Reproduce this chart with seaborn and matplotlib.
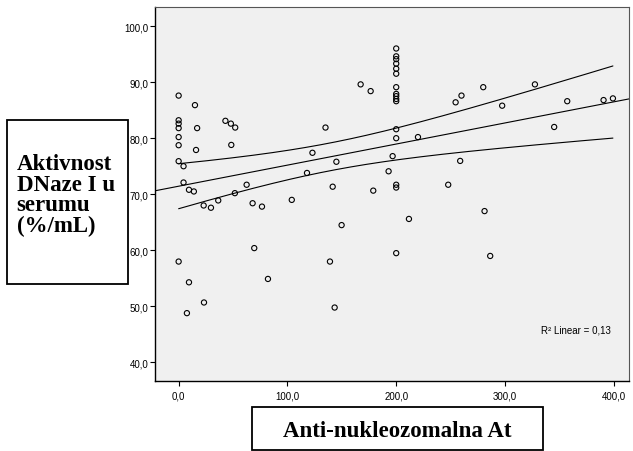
import numpy as np
import pandas as pd
import matplotlib
matplotlib.use("Agg")
import matplotlib.pyplot as plt
import seaborn as sns
from matplotlib.patches import Rectangle

# ---- data ----
x_vals = [0, 0, 0, 0, 0, 0, 0, 0,
          4.5, 4.5, 9.5, 14, 15, 17, 16, 23, 29.7, 36.4,
          43, 48, 52, 48.4, 51.7, 62.5, 68, 76.6, 104, 118,
          123, 9.5, 23.3, 7.6, 69.5, 82.1,
          135, 145, 141.6, 149.8, 139.1, 143.4, 167.3, 176.5, 178.9, 193, 196.7,
          200, 200, 200, 200, 200, 200, 200, 200, 200, 200, 200,
          200, 200, 200, 200, 200,
          211.7, 220, 247.8, 254.6, 260, 258.8, 280, 281.2, 286.4, 297.4,
          327.5, 345.2, 357.2, 390.6, 399.2]
y_vals = [87.6, 83.2, 82.6, 81.8, 80.2, 78.75, 75.9, 58.0,
          75.0, 72.1, 70.8, 70.5, 85.9, 81.8, 77.9, 68.0, 67.6, 68.9,
          83.1, 82.6, 81.9, 78.8, 70.2, 71.7, 68.4, 67.8, 69.0, 73.8,
          77.4, 54.3, 50.7, 48.8, 60.4, 54.9,
          81.9, 75.8, 71.35, 64.5, 58.0, 49.8, 89.6, 88.4, 70.65, 74.1, 76.8,
          96.0, 94.6, 94.1, 93.3, 92.4, 91.5, 89.1, 87.9, 87.5, 87.0, 86.6,
          81.6, 80.0, 71.7, 71.2, 59.5,
          65.6, 80.2, 71.7, 86.4, 87.6, 75.95, 89.1, 67.0, 59.0, 85.8,
          89.6, 82.0, 86.6, 86.8, 87.1]
x_ticks = [0, 100, 200, 300, 400]
x_tick_labels = ["0,0", "100,0", "200,0", "300,0", "400,0"]
y_ticks = [40, 50, 60, 70, 80, 90, 100]
y_tick_labels = ["40,0", "50,0", "60,0", "70,0", "80,0", "90,0", "100,0"]
x_title = "Anti-nukleozomalna At"
y_title = "Aktivnost\nDNaze I u\nserumu\n(%/mL)"
r2_text = "R\u00b2 Linear = 0,13"

df = pd.DataFrame({"x": x_vals, "y": y_vals})

sns.set_style("ticks")
plt.rcParams["font.family"] = ["Liberation Sans", "DejaVu Sans"]

fig = plt.figure(figsize=(6.33, 4.52), dpi=100)
ax = fig.add_axes([0.2444, 0.1549, 0.9937 - 0.2444, 0.9823 - 0.1549])
ax.set_facecolor("#F0F0F0")
ax.set_xlim(-22, 414)
ax.set_ylim(36.7, 103.4)

# fit line across the whole axis
sns.regplot(data=df, x="x", y="y", ax=ax, scatter=False, ci=None,
            truncate=False, line_kws=dict(color="black", lw=0.8))

# 95% confidence band for the mean, drawn as lines
xa = np.asarray(x_vals, float)
ya = np.asarray(y_vals, float)
n = len(xa)
b, a = np.polyfit(xa, ya, 1)
res = ya - (a + b * xa)
s = np.sqrt(np.sum(res ** 2) / (n - 2))
xbar = xa.mean()
sxx = np.sum((xa - xbar) ** 2)
xg = np.linspace(xa.min(), xa.max(), 200)
yhat = a + b * xg
half = 1.99 * s * np.sqrt(1.0 / n + (xg - xbar) ** 2 / sxx)
ax.plot(xg, yhat + half, color="black", lw=0.8)
ax.plot(xg, yhat - half, color="black", lw=0.8)

sns.scatterplot(data=df, x="x", y="y", ax=ax, s=14, marker="o",
                facecolor="none", edgecolor="black", linewidth=0.8, zorder=3)

ax.set_xticks(x_ticks)
ax.set_xticklabels(x_tick_labels)
ax.set_yticks(y_ticks)
ax.set_yticklabels(y_tick_labels)
ax.set_xlabel("")
ax.set_ylabel("")
ax.tick_params(axis="both", direction="out", length=3.5, width=0.8,
               labelsize=7, colors="black")
ax.tick_params(axis="y", pad=1)
ax.tick_params(axis="x", pad=3)
for side in ["left", "bottom"]:
    ax.spines[side].set_color("black")
    ax.spines[side].set_linewidth(1.0)
for side in ["top", "right"]:
    ax.spines[side].set_visible(True)
    ax.spines[side].set_color("#555555")
    ax.spines[side].set_linewidth(0.8)

ax.text(0.962, 0.137, r2_text, transform=ax.transAxes, ha="right",
        va="center", fontsize=7, color="black")

# boxed axis titles
fig.patches.append(Rectangle((0.0115, 0.3695), 0.1907, 0.3635,
                             transform=fig.transFigure, fill=False,
                             edgecolor="black", lw=1.3))
fig.text(0.0264, 0.4867, y_title, ha="left", va="baseline", fontsize=16.5,
         fontweight="bold", family=["Liberation Serif"], linespacing=0.97,
         color="black")

fig.patches.append(Rectangle((0.3976, 0.0029), 0.4597, 0.0951,
                             transform=fig.transFigure, fill=False,
                             edgecolor="black", lw=1.3))
fig.text(0.6283, 0.0325, x_title, ha="center", va="baseline", fontsize=16.5,
         fontweight="bold", family=["Liberation Serif"], color="black")

fig.savefig("out.png", dpi=100, facecolor="white")
